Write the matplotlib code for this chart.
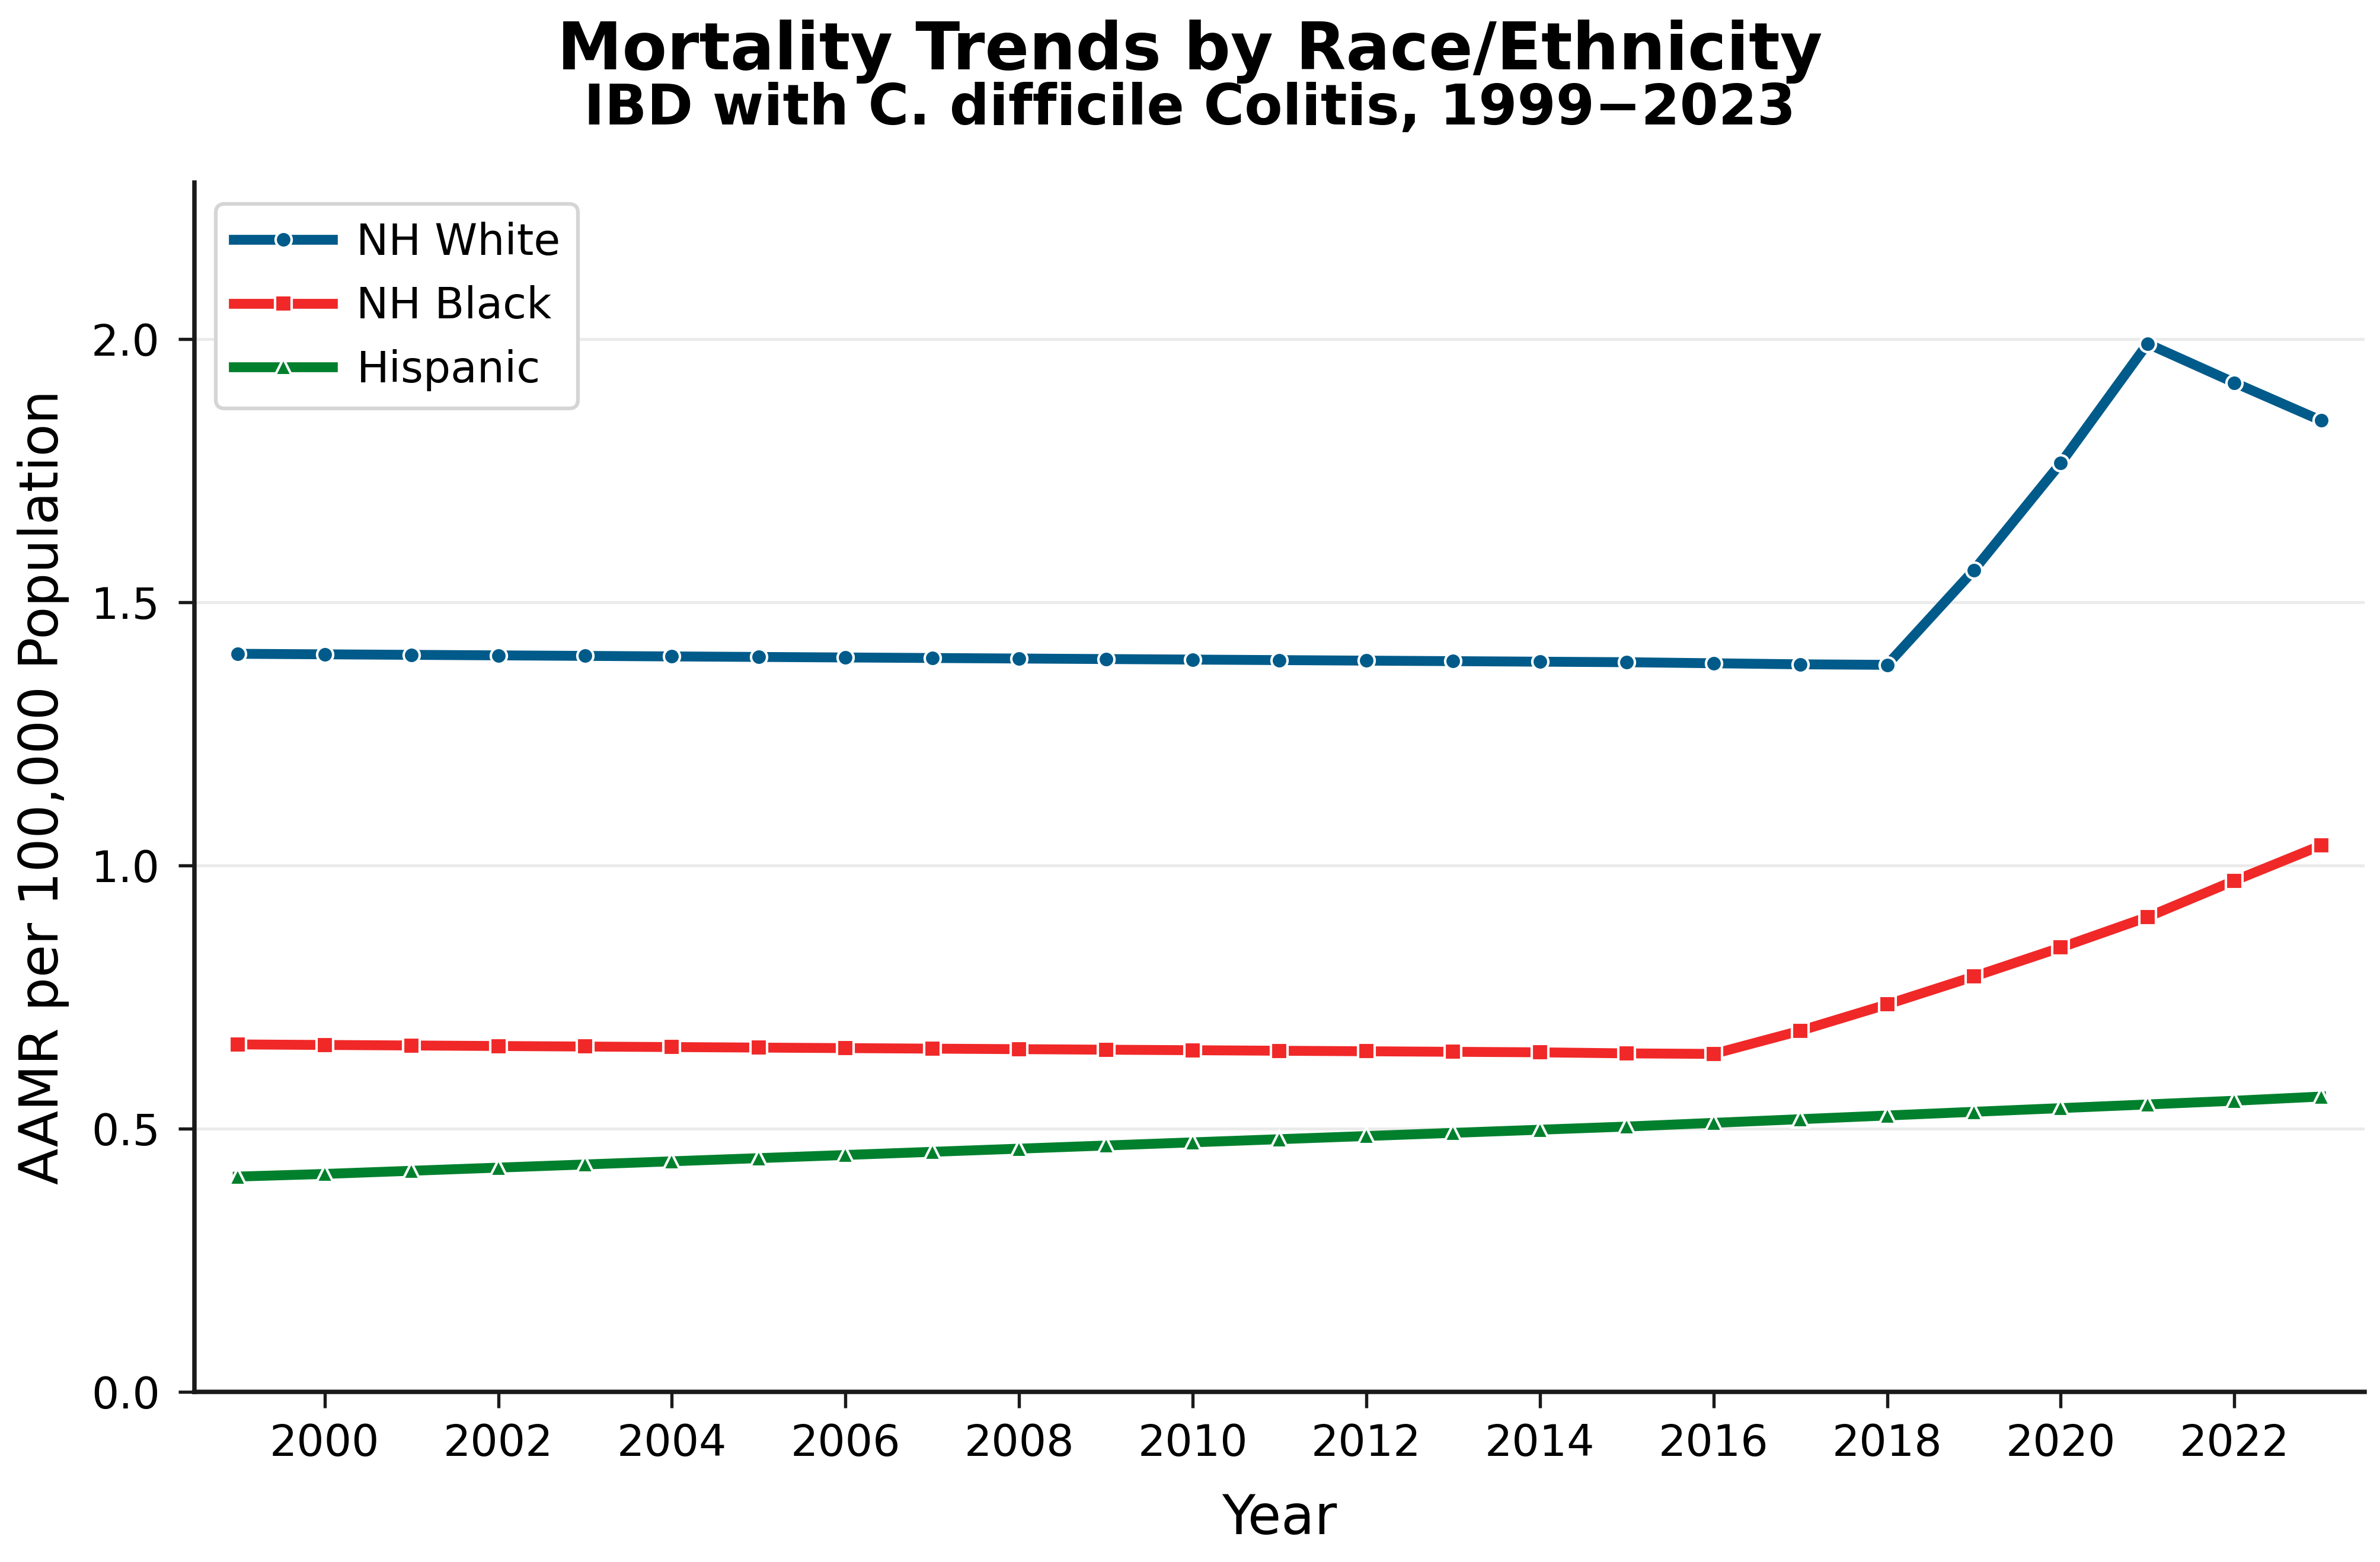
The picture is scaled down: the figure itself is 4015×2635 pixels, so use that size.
import matplotlib
matplotlib.use("Agg")
import matplotlib.pyplot as plt

years = list(range(1999, 2024))

nh_white = [1.402, 1.401, 1.400, 1.399, 1.398, 1.397, 1.396, 1.395, 1.394, 1.393,
            1.392, 1.391, 1.390, 1.389, 1.388, 1.387, 1.386, 1.384, 1.382, 1.381,
            1.561, 1.764, 1.991, 1.917, 1.845]
nh_black = [0.660, 0.659, 0.658, 0.657, 0.656, 0.655, 0.654, 0.653, 0.652, 0.651,
            0.650, 0.649, 0.648, 0.647, 0.646, 0.645, 0.643, 0.642,
            0.686, 0.736, 0.789, 0.844, 0.902, 0.971, 1.038]
hispanic = [0.409, 0.414, 0.420, 0.426, 0.432, 0.438, 0.444, 0.450, 0.456, 0.462,
            0.468, 0.474, 0.480, 0.486, 0.492, 0.498, 0.504, 0.511, 0.518, 0.525,
            0.532, 0.539, 0.546, 0.553, 0.561]

series_names = ["NH White", "NH Black", "Hispanic"]
series_values = [nh_white, nh_black, hispanic]
series_colors = ["#005b8a", "#f02828", "#00802d"]
series_markers = ["o", "s", "^"]

title = "Mortality Trends by Race/Ethnicity"
subtitle = "IBD with C. difficile Colitis, 1999\u22122023"
xlabel = "Year"
ylabel = "AAMR per 100,000 Population"
xticks = list(range(2000, 2023, 2))
yticks = [0.0, 0.5, 1.0, 1.5, 2.0]

plt.rcParams['font.family'] = ['DejaVu Sans']

fig = plt.figure(figsize=(4015 / 300, 2635 / 300), dpi=300)
ax = fig.add_axes([0.0817, 0.1089, 0.9118, 0.7742])

for name, vals, col, mk in zip(series_names, series_values, series_colors, series_markers):
    ax.plot(years, vals, color=col, marker=mk, linewidth=4, markersize=6.5,
            markeredgecolor="white", markeredgewidth=1, label=name, zorder=3)

ax.set_xlim(1998.5, 2023.5)
ax.set_ylim(0, 2.297)
ax.set_xticks(xticks)
ax.set_yticks(yticks)
ax.set_yticklabels([f"{v:.1f}" for v in yticks])

ax.yaxis.grid(True, color="#ebebeb", linewidth=1.2, zorder=0)
ax.xaxis.grid(False)
ax.set_axisbelow(True)

for s in ["top", "right"]:
    ax.spines[s].set_visible(False)
for s in ["left", "bottom"]:
    ax.spines[s].set_linewidth(1.8)
    ax.spines[s].set_color("#1a1a1a")

ax.tick_params(axis="both", labelsize=17.5, length=6.5, width=1.3, color="#1a1a1a")
ax.tick_params(axis="x", pad=6)
ax.tick_params(axis="y", pad=7.5)

ax.set_xlabel(xlabel, fontsize=22)
ax.set_ylabel(ylabel, fontsize=21.5)
ax.xaxis.set_label_coords(0.5, -0.083)
ax.yaxis.set_label_coords(-0.0576, 0.5)

leg = ax.legend(loc="upper left", fontsize=17.5, handlelength=2.3, handletextpad=0.55,
                frameon=True, fancybox=True, framealpha=1.0, edgecolor="#d5d5d5",
                borderaxespad=0.5)
leg.get_frame().set_linewidth(1.5)

fig.text(0.5, 1 - 117 / 2635, title, ha="center", va="baseline",
         fontsize=26.4, fontweight="bold")
fig.text(0.5, 1 - 210 / 2635, subtitle, ha="center", va="baseline",
         fontsize=22.5, fontweight="bold")

fig.savefig("out.png", dpi=300, facecolor="white")
